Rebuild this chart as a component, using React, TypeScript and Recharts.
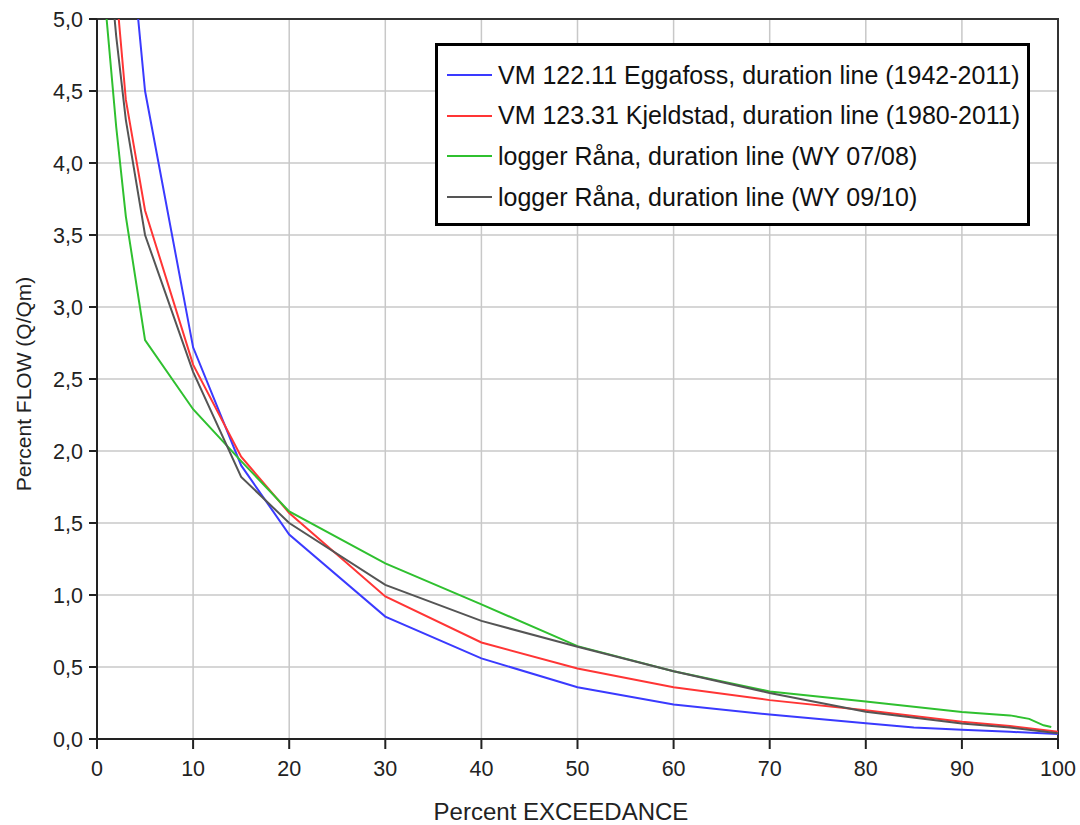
import {
  LineChart,
  Line,
  XAxis,
  YAxis,
  CartesianGrid,
  ReferenceArea,
  Label,
} from "recharts";

// percent exceedance (x) shared by all series
const exceedance = [0, 1, 2, 3, 5, 10, 15, 20, 30, 40, 50, 60, 70, 80, 85, 90, 95, 97, 98.5, 99.3, 100];

// Q/Qm per series, null where a series has no point
const eggafoss = [8.0, 7.3, 6.6, 5.9, 4.5, 2.72, 1.9, 1.42, 0.85, 0.56, 0.36, 0.24, 0.17, 0.11, 0.08, 0.065, 0.05, null, null, null, 0.035];
const kjeldstad = [7.0, 6.0, 5.2, 4.44, 3.67, 2.6, 1.96, 1.57, 0.99, 0.67, 0.49, 0.36, 0.27, 0.2, null, 0.12, 0.09, null, null, null, 0.05];
const rana0708 = [6.0, 5.0, 4.25, 3.63, 2.77, 2.29, 1.93, 1.58, 1.22, 0.935, 0.645, 0.47, 0.33, 0.26, null, 0.187, 0.164, 0.14, 0.095, 0.083, null];
const rana0910 = [6.5, 5.6, 4.88, 4.3, 3.5, 2.55, 1.82, 1.5, 1.07, 0.82, 0.64, 0.47, 0.32, 0.19, null, 0.107, 0.08, null, null, null, 0.04];

const xTicks = [0, 10, 20, 30, 40, 50, 60, 70, 80, 90, 100];
const yTicks = [0, 0.5, 1, 1.5, 2, 2.5, 3, 3.5, 4, 4.5, 5];

const series = [
  { key: "eggafoss", name: "VM 122.11 Eggafoss, duration line (1942-2011)", color: "#3a3aff" },
  { key: "kjeldstad", name: "VM 123.31 Kjeldstad, duration line (1980-2011)", color: "#ff3535" },
  { key: "rana0708", name: "logger Råna, duration line (WY 07/08)", color: "#2fc02f" },
  { key: "rana0910", name: "logger Råna, duration line (WY 09/10)", color: "#555555" },
];

const data = exceedance.map((x, i) => ({
  x,
  eggafoss: eggafoss[i],
  kjeldstad: kjeldstad[i],
  rana0708: rana0708[i],
  rana0910: rana0910[i],
}));

const font = "'Liberation Sans', Arial, sans-serif";

// legend drawn as an overlay so it doesn't take space from the plot
const LegendBox = () => (
  <div
    style={{
      boxSizing: "border-box",
      position: "absolute",
      left: 435,
      top: 43,
      width: 595,
      height: 183,
      border: "3px solid #000",
      background: "#fff",
      fontFamily: font,
      fontSize: 25,
      color: "#111",
    }}
  >
    {series.map((s, i) => (
      <div
        key={s.key}
        style={{
          position: "absolute",
          left: 9,
          top: 29 + i * 40.7 - 15,
          height: 30,
          display: "flex",
          alignItems: "center",
          whiteSpace: "nowrap",
        }}
      >
        <span style={{ display: "inline-block", width: 45, height: 2, background: s.color, marginRight: 6 }} />
        <span>{s.name}</span>
      </div>
    ))}
  </div>
);

export default function App() {
  return (
    <div style={{ position: "absolute", left: 0, top: 0, width: 1080, height: 825, background: "#fff" }}>
      <LineChart width={1080} height={825} data={data} margin={{ top: 19, right: 22, bottom: 0, left: 0 }}>
        <CartesianGrid stroke="#c8c8c8" strokeWidth={1.5} />
        <XAxis
          dataKey="x"
          type="number"
          domain={[0, 100]}
          ticks={xTicks}
          height={86}
          tickSize={10}
          tickMargin={12}
          stroke="#222"
          strokeWidth={2}
          tick={{ fill: "#222", fontSize: 21.5, fontFamily: font }}
        >
          <Label
            content={() => (
              <text x={561} y={820} textAnchor="middle" style={{ fill: "#222", fontSize: 24, fontFamily: font }}>
                Percent EXCEEDANCE
              </text>
            )}
          />
        </XAxis>
        <YAxis
          type="number"
          domain={[0, 5]}
          allowDataOverflow
          ticks={yTicks}
          width={97}
          tickSize={8}
          tickMargin={6}
          stroke="#222"
          strokeWidth={2}
          tickFormatter={(v: number) => v.toFixed(1).replace(".", ",")}
          tick={{ fill: "#222", fontSize: 21.5, fontFamily: font }}
        >
          <Label
            content={() => (
              <text
                x={23}
                y={384}
                transform="rotate(-90 23 384)"
                textAnchor="middle"
                dominantBaseline="central"
                style={{ fill: "#222", fontSize: 21, fontFamily: font }}
              >
                Percent FLOW (Q/Qm)
              </text>
            )}
          />
        </YAxis>
        <ReferenceArea x1={0} x2={100} y1={0} y2={5} fill="none" stroke="#333" strokeWidth={2} />
        {series.map((s) => (
          <Line
            key={s.key}
            type="linear"
            dataKey={s.key}
            name={s.name}
            stroke={s.color}
            strokeWidth={2}
            dot={false}
            connectNulls
            isAnimationActive={false}
          />
        ))}
      </LineChart>
      <LegendBox />
    </div>
  );
}
